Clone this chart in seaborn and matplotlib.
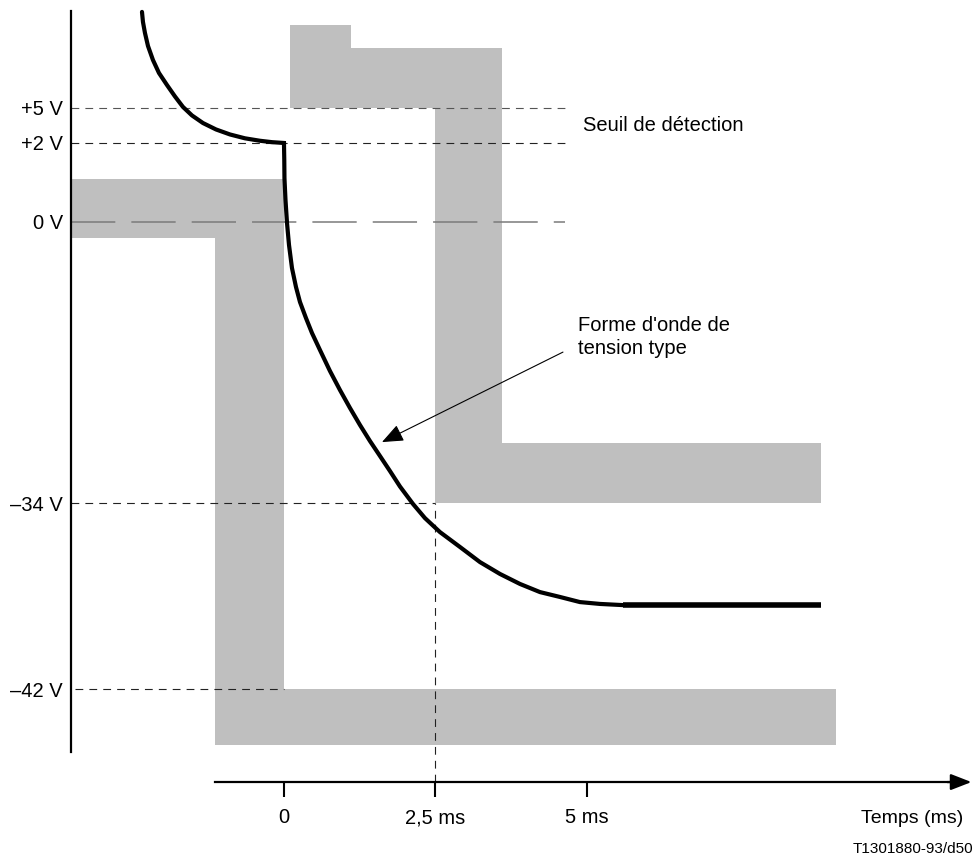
import numpy as np
import matplotlib
matplotlib.use("Agg")
import matplotlib.pyplot as plt
import seaborn as sns

# --- data (time in ms, voltage in V) ---
volt_ticks = [5, 2, 0, -34, -42]
volt_labels = ['+5 V', '+2 V', '0 V', '\u201334 V', '\u201342 V']
time_ticks = [0, 2.5, 5]
time_labels = ['0', '2,5 ms', '5 ms']

# typical waveform: rise part (before t=0) and decay part
rise_t = [-2.343, -2.327, -2.294, -2.244, -2.162, -2.063, -1.931, -1.799, -1.667,
          -1.518, -1.337, -1.122, -0.891, -0.644, -0.396, -0.198, 0.0]
rise_v = [13.23, 12.37, 11.43, 10.31, 9.11, 8.0, 6.97, 5.99, 5.09,
          4.36, 3.71, 3.16, 2.73, 2.40, 2.19, 2.07, 2.0]
decay_t = [0.0, 0.005, 0.008, 0.025, 0.050, 0.083, 0.132, 0.198, 0.264, 0.363, 0.462,
           0.594, 0.759, 0.924, 1.089, 1.254, 1.419, 1.584, 1.749, 1.914, 2.129, 2.327,
           2.574, 2.904, 3.234, 3.564, 3.894, 4.224, 4.554, 4.884, 5.215, 5.594]
decay_v = [2.0, 1.57, 1.11, 0.56, -0.12, -2.78, -5.57, -7.86, -9.68, -11.62, -13.43,
           -15.49, -18.03, -20.33, -22.50, -24.56, -26.50, -28.31, -30.13, -32.0, -34.04, -34.65,
           -35.25, -35.89, -36.54, -37.05, -37.48, -37.83, -38.04, -38.26, -38.34, -38.39]
plateau_t = [5.594, 8.861]
plateau_v = [-38.39, -38.39]

# tolerance masks (step edges)
low_mask_t = [-3.515, -1.14, 0.0, 9.11]
low_mask_lo = [-1.94, -44.4, -44.4, -44.4]
low_mask_hi = [1.1, 1.1, -42.0, -42.0]
up_mask_t = [0.1, 1.1, 2.49, 3.6, 8.86]
up_mask_lo = [5.0, 5.0, -34.0, -34.0, -34.0]
up_mask_hi = [12.1, 10.1, 10.1, -26.75, -26.75]

# --- schematic (piecewise) voltage scale ---
bp_volt = np.array([-80, -42, -34, 0, 2, 5, 40], dtype=float)
bp_pos = -np.array([1572.5, 689, 503, 222, 143, 108, -300.5])


def fwd(v):
    return np.interp(v, bp_volt, bp_pos)


def inv(p):
    return np.interp(p, bp_pos, bp_volt)


sns.set_style("white")
plt.rcParams['font.family'] = ['Liberation Sans', 'DejaVu Sans']
plt.rcParams['text.color'] = 'black'
plt.rcParams['xtick.color'] = 'black'
plt.rcParams['ytick.color'] = 'black'
fs = 14.5

fig = plt.figure(figsize=(9.75, 8.56), dpi=100)
ax = fig.add_axes([0, 0, 1, 1])
ax.set_yscale('function', functions=(fwd, inv))
ax.set_xlim(-4.686, 11.403)
ax.set_ylim(-49.18, 14.25)

gray = '#bfbfbf'
ax.fill_between(low_mask_t, low_mask_lo, low_mask_hi, step='post', color=gray, lw=0, zorder=1)
ax.fill_between(up_mask_t, up_mask_lo, up_mask_hi, step='post', color=gray, lw=0, zorder=1)

# reference lines
y_axis_t = -3.515
x_axis_v = -46.0
short_dash = (0, (7, 5.5))
ax.hlines(5, y_axis_t, 4.64, color='#555555', lw=0.8, ls=short_dash, zorder=2)
ax.hlines(2, y_axis_t, 4.64, color='#222222', lw=0.8, ls=short_dash, zorder=2)
ax.hlines(0, y_axis_t, 4.64, color='#7a7a7a', lw=1.1, ls=(0, (29, 10.5)), zorder=2)
ax.hlines(-34, y_axis_t, 2.49, color='#222222', lw=0.8, ls=short_dash, zorder=2)
ax.hlines(-42, y_axis_t + 0.07, 0.0, color='#222222', lw=0.8, ls=short_dash, zorder=2)
ax.vlines(2.49, x_axis_v, -34, color='#222222', lw=0.8, ls=short_dash, zorder=2)

# waveform
sns.lineplot(x=rise_t + decay_t[1:], y=rise_v + decay_v[1:], sort=False, estimator=None,
             color='black', lw=3.0, ax=ax, zorder=4)
ax.lines[-1].set_solid_joinstyle('miter')
sns.lineplot(x=plateau_t, y=plateau_v, sort=False, estimator=None,
             color='black', lw=4.0, ax=ax, zorder=4)
ax.lines[-1].set_solid_capstyle('butt')

# axes
for s in ['top', 'right']:
    ax.spines[s].set_visible(False)
ax.spines['left'].set_position(('data', y_axis_t))
ax.spines['left'].set_bounds(-44.71, 13.31)
ax.spines['left'].set_linewidth(1.6)
ax.spines['bottom'].set_position(('data', x_axis_v))
ax.spines['bottom'].set_bounds(-1.14, 11.0)
ax.spines['bottom'].set_linewidth(1.6)
ax.spines['left'].set_color('black')
ax.spines['bottom'].set_color('black')

ax.set_yticks(volt_ticks, volt_labels)
ax.set_xticks(time_ticks, time_labels)
ax.minorticks_off()
ax.tick_params(axis='y', left=False, length=0, pad=6, labelsize=fs, labelcolor='black')
ax.tick_params(axis='x', bottom=True, direction='out', length=10.8, width=1.5,
               color='black', labelcolor='black', pad=8, labelsize=fs)

ax.annotate('', xy=(11.39, x_axis_v), xytext=(10.9, x_axis_v),
            arrowprops=dict(arrowstyle='-|>,head_length=0.9,head_width=0.35',
                            color='black', lw=1.6, mutation_scale=14))

# texts
ax.text(4.93, 3.46, 'Seuil de détection', ha='left', va='center', fontsize=fs)
ax.text(4.85, -13.91, "Forme d'onde de\ntension type", ha='left', va='center',
        fontsize=fs, linespacing=1.22)
ax.annotate('', xy=(1.617, -26.63), xytext=(4.604, -15.74),
            arrowprops=dict(arrowstyle='-|>,head_length=1.1,head_width=0.45',
                            color='black', lw=0.8, mutation_scale=12, shrinkA=0, shrinkB=0))
ax.text(10.36, -47.55, 'Temps (ms)', ha='center', va='center', fontsize=14)
ax.text(11.37, -48.88, 'T1301880-93/d50', ha='right', va='center', fontsize=11)

fig.savefig('out.png', dpi=100)
